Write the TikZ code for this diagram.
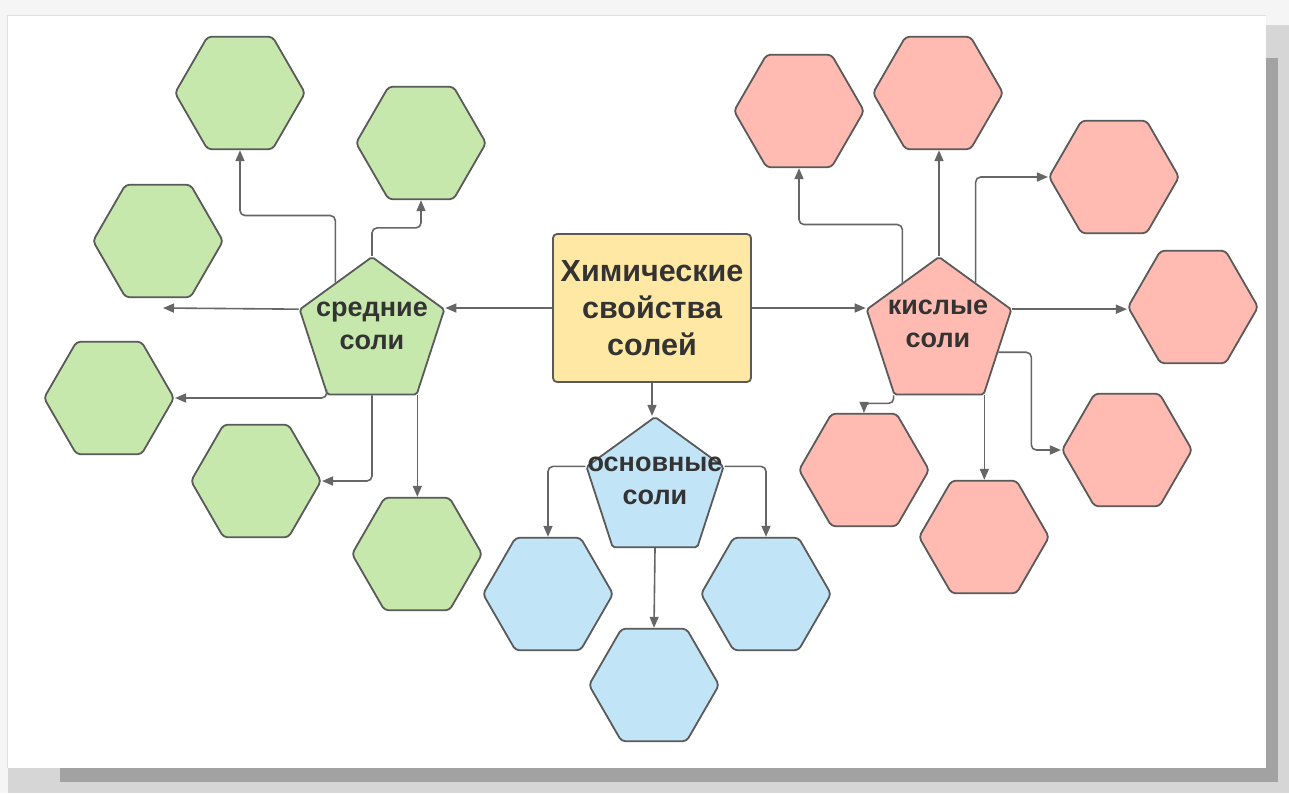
\documentclass[tikz,border=0pt]{standalone}
\usepackage{fontspec}
\setmainfont{Liberation Sans}
\usetikzlibrary{shapes.geometric,arrows.meta,calc}

\definecolor{hexgreen}{HTML}{C7E8AC}
\definecolor{hexred}{HTML}{FFBBB1}
\definecolor{hexblue}{HTML}{C1E4F7}
\definecolor{boxyellow}{HTML}{FFE8A3}
\definecolor{edgegray}{HTML}{5A5A5A}
\definecolor{linegray}{HTML}{666666}
\definecolor{txtgray}{HTML}{333333}
\definecolor{pagegray}{HTML}{F5F5F5}
\definecolor{shadelight}{HTML}{D6D6D6}
\definecolor{shadedark}{HTML}{A2A2A2}

\begin{document}
\begin{tikzpicture}[x=1pt, y=-1pt,
    hexa/.style={regular polygon, regular polygon sides=6, minimum size=130pt, inner sep=0pt,
      draw=edgegray, line width=1.8pt, rounded corners=4pt},
    penta/.style={regular polygon, regular polygon sides=5, minimum size=152pt, inner sep=0pt,
      draw=edgegray, line width=1.8pt, rounded corners=2pt},
    salt/.style={font=\fontsize{27}{33}\selectfont\bfseries, text=txtgray, align=center},
    conn/.style={draw=linegray, line width=1.6pt, rounded corners=5pt,
      -{Triangle[length=11pt,width=9pt]}}]
      % card with shadow
      \fill[pagegray] (0,0) rectangle (1289,793);
      \fill[shadelight] (8,25) rectangle (1289,793);
      \fill[shadedark] (60,58) rectangle (1278,782);
      \fill[white] (7,15) rectangle (1266,768);
      \draw[gray!25, line width=0.8pt] (7,768) -- (7,15) -- (1266,15);

      \node[draw=edgegray, fill=boxyellow, rounded corners=4pt, line width=1.8pt,
        minimum width=198pt, minimum height=148pt, font=\fontsize{30.5}{37}\selectfont\bfseries,
        text=txtgray, align=center] (chem) at (652,308) {Химические\\свойства\\солей};

      \node[penta, fill=hexgreen] (sred) at (372,333) {};
      \node[penta, fill=hexred] (kisl) at (939,333) {};
      \node[penta, fill=hexblue, minimum size=144pt] (osn) at (655,489) {};
      \node[salt] (sredT) at (372,326) {средние\\соли};
      \node[salt] (kislT) at (938,324) {кислые\\соли};
      \node[salt] (osnT) at (655,481) {основные\\соли};

      \node[hexa, fill=hexgreen] (g1) at (240,93) {};
      \node[hexa, fill=hexgreen] (g2) at (421,143) {};
      \node[hexa, fill=hexgreen] (g3) at (158,241) {};
      \node[hexa, fill=hexgreen] (g4) at (109,398) {};
      \node[hexa, fill=hexgreen] (g5) at (256,481) {};
      \node[hexa, fill=hexgreen] (g6) at (417,554) {};

      \node[hexa, fill=hexblue] (b1) at (548,594) {};
      \node[hexa, fill=hexblue] (b2) at (766,594) {};
      \node[hexa, fill=hexblue] (b3) at (654,685) {};

      \node[hexa, fill=hexred] (r1) at (799,111) {};
      \node[hexa, fill=hexred] (r2) at (938,93) {};
      \node[hexa, fill=hexred] (r3) at (1114,177) {};
      \node[hexa, fill=hexred] (r4) at (1193,307) {};
      \node[hexa, fill=hexred] (r5) at (1127,450) {};
      \node[hexa, fill=hexred] (r6) at (984,537) {};
      \node[hexa, fill=hexred] (r7) at (864,470) {};

      \coordinate (g3in) at (163,308);

      % from the centre box
      \draw[conn] (chem.west) -- (chem.west -| sred.corner 5);
      \draw[conn] (chem.east) -- (chem.east -| kisl.corner 2);
      \draw[conn] (chem.south) -- (chem.south |- osn.corner 1);

      % средние соли
      \draw[conn] (sred.corner 2) -- (g3in);
      \draw[conn] ($(sred.corner 1)!0.5!(sred.corner 2)$) -- ++(0,-67) -| (g1.south);
      \draw[conn] (sred.corner 1) -- ++(0,-28) -| (g2.south);
      \draw[conn] (sred.corner 3) |- (g4.east);
      \draw[conn] (sred.south) |- (g5.east);
      \draw[conn] (sred.corner 4) -- (sred.corner 4 |- g6.north);

      % основные соли
      \draw[conn] (osn.corner 2) -| (b1.north);
      \draw[conn] (osn.corner 5) -| (b2.north);
      \draw[conn] (osn.south) -- (b3.north);

      % кислые соли
      \draw[conn] ($(kisl.corner 1)!0.5!(kisl.corner 2)$) -- ++(0,-58) -| (r1.south);
      \draw[conn] (kisl.corner 1) -- (kisl.corner 1 |- r2.south);
      \draw[conn] ($(kisl.corner 1)!0.5!(kisl.corner 5)$) |- (r3.west);
      \draw[conn] (kisl.corner 5) -- (kisl.corner 5 -| r4.west);
      \draw[conn] ($(kisl.corner 5)!0.5!(kisl.corner 4)$) -- ++(33,0) |- (r5.west);
      \draw[conn] (kisl.corner 4) -- (kisl.corner 4 |- r6.north);
      \draw[conn] (kisl.corner 3) -- ++(0,8) -| (r7.north);
\end{tikzpicture}
\end{document}
